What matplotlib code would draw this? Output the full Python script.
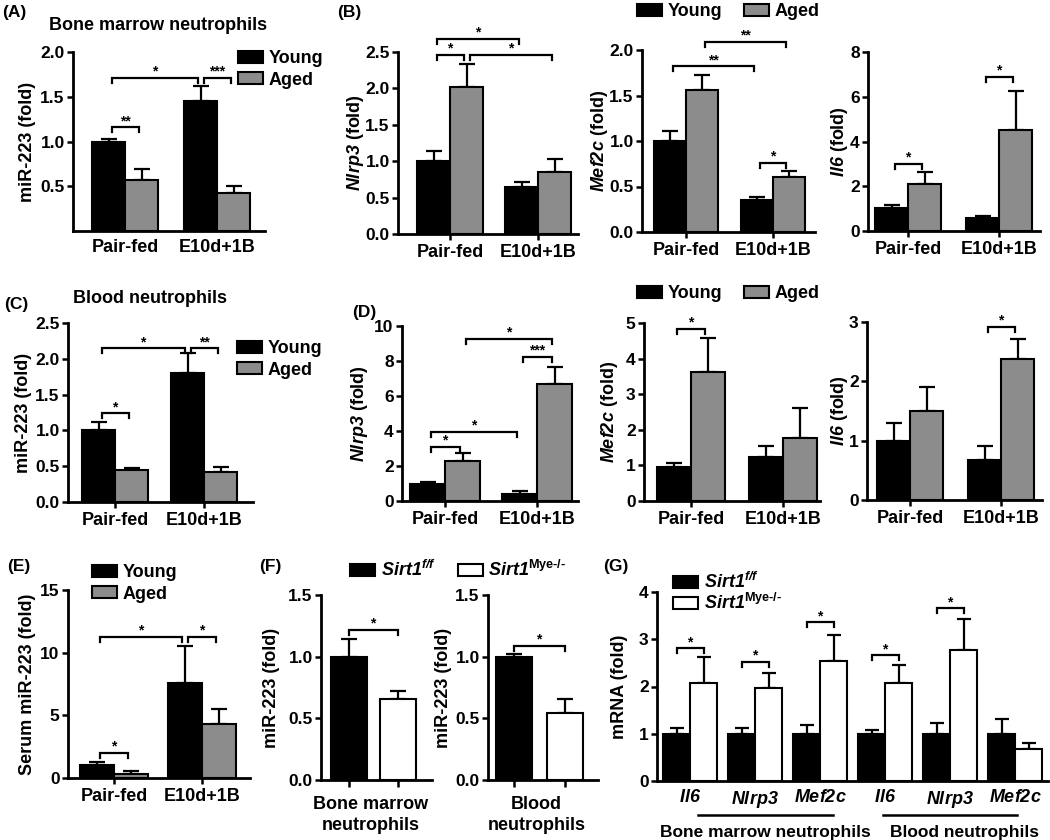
import matplotlib
matplotlib.use("Agg")
import matplotlib.pyplot as plt
import matplotlib.transforms as mtransforms
import numpy as np

plt.rcParams["font.family"] = "Liberation Sans"
plt.rcParams["font.weight"] = "bold"
plt.rcParams["mathtext.fontset"] = "custom"
plt.rcParams["mathtext.it"] = "Liberation Sans:italic:bold"
plt.rcParams["mathtext.cal"] = "Liberation Sans:italic:bold"
plt.rcParams["mathtext.rm"] = "Liberation Sans:bold"
plt.rcParams["mathtext.bf"] = "Liberation Sans:bold"

# ---- data ----
groups = ["Pair-fed", "E10d+1B"]
ages = ["Young", "Aged"]

# (A) bone marrow neutrophils, miR-223
a_young = [1.0, 1.45]
a_young_sem = [0.03, 0.17]
a_aged = [0.57, 0.43]
a_aged_sem = [0.12, 0.07]

# (B) bone marrow neutrophils, Nlrp3 / Mef2c / Il6
b_nlrp3_young = [1.0, 0.65]
b_nlrp3_young_sem = [0.14, 0.06]
b_nlrp3_aged = [2.02, 0.85]
b_nlrp3_aged_sem = [0.31, 0.18]

b_mef2c_young = [1.0, 0.35]
b_mef2c_young_sem = [0.11, 0.04]
b_mef2c_aged = [1.56, 0.60]
b_mef2c_aged_sem = [0.17, 0.07]

b_il6_young = [1.05, 0.57]
b_il6_young_sem = [0.13, 0.10]
b_il6_aged = [2.08, 4.5]
b_il6_aged_sem = [0.55, 1.75]

# (C) blood neutrophils, miR-223
c_young = [1.0, 1.80]
c_young_sem = [0.12, 0.28]
c_aged = [0.45, 0.42]
c_aged_sem = [0.02, 0.07]

# (D) blood neutrophils, Nlrp3 / Mef2c / Il6
d_nlrp3_young = [1.0, 0.42]
d_nlrp3_young_sem = [0.10, 0.14]
d_nlrp3_aged = [2.27, 6.68]
d_nlrp3_aged_sem = [0.45, 0.98]

d_mef2c_young = [0.95, 1.25]
d_mef2c_young_sem = [0.13, 0.29]
d_mef2c_aged = [3.62, 1.77]
d_mef2c_aged_sem = [0.96, 0.83]

d_il6_young = [1.0, 0.68]
d_il6_young_sem = [0.30, 0.23]
d_il6_aged = [1.5, 2.38]
d_il6_aged_sem = [0.40, 0.34]

# (E) serum miR-223
e_young = [1.0, 7.6]
e_young_sem = [0.28, 2.9]
e_aged = [0.33, 4.3]
e_aged_sem = [0.22, 1.2]

# (F) Sirt1 f/f vs Mye-/-, miR-223
genotypes = ["$\\mathcal{Sirt1}^{\\mathcal{f/f}}$", "$\\mathcal{Sirt1}^{\\mathrm{Mye\u2010/\u2010}}$"]
f_bm = [1.0, 0.66]
f_bm_sem = [0.14, 0.06]
f_blood = [1.0, 0.54]
f_blood_sem = [0.02, 0.12]

# (G) mRNA
g_genes = ["Il6", "Nlrp3", "Mef2c", "Il6", "Nlrp3", "Mef2c"]
g_ff = [1.0, 1.0, 1.0, 1.0, 1.0, 1.0]
g_ff_sem = [0.12, 0.12, 0.18, 0.08, 0.22, 0.32]
g_mye = [2.08, 1.97, 2.54, 2.07, 2.77, 0.68]
g_mye_sem = [0.54, 0.31, 0.55, 0.39, 0.65, 0.12]
g_sig = [2.81, 2.52, 3.36, 2.66, 3.66]

# bracket lists: (bar i, bar j, height, label); bars = PF young, PF aged, E young, E aged
a_brackets = [(0, 2, 1.71, "*"), (2, 3, 1.71, "***"), (0, 1, 1.16, "**")]
b_nlrp3_brackets = [(0, 1, 2.46, "*"), (0, 2, 2.68, "*"), (1, 3, 2.46, "*")]
b_mef2c_brackets = [(0, 2, 1.82, "**"), (1, 3, 2.09, "**"), (2, 3, 0.76, "*")]
b_il6_brackets = [(0, 1, 3.0, "*"), (2, 3, 6.9, "*")]
c_brackets = [(0, 1, 1.24, "*"), (0, 2, 2.15, "*"), (2, 3, 2.15, "**")]
d_nlrp3_brackets = [(0, 1, 3.1, "*"), (0, 2, 3.94, "*"), (1, 3, 9.26, "*"), (2, 3, 8.23, "***")]
d_mef2c_brackets = [(0, 1, 4.83, "*")]
d_il6_brackets = [(2, 3, 2.92, "*")]
e_brackets = [(0, 1, 2.0, "*"), (0, 2, 11.25, "*"), (2, 3, 11.25, "*")]

GRAY = "#8c8c8c"
W, H = 1050, 840
FS = 13

fig = plt.figure(figsize=(W / 100, H / 100), dpi=100)


def px_axes(left, right, top, bottom):
    return fig.add_axes([left / W, 1 - bottom / H, (right - left) / W, (bottom - top) / H])


def style_axes(ax, ymax, yticks, fmt):
    for s in ["top", "right"]:
        ax.spines[s].set_visible(False)
    for s in ["left", "bottom"]:
        ax.spines[s].set_linewidth(2)
    ax.set_ylim(0, ymax)
    ax.set_yticks(yticks, [fmt.format(t) for t in yticks])
    ax.tick_params(axis="both", labelsize=FS, width=1.8, length=4, pad=2)
    ax.tick_params(axis="y", labelsize=12.5)


def bracket(ax, x1, x2, y, label, tick):
    ax.plot([x1, x1, x2, x2], [y - tick, y, y, y - tick], color="black", lw=1.6,
            clip_on=False, solid_joinstyle="miter")
    ax.annotate(label, ((x1 + x2) / 2, y), xytext=(0, 1.5), textcoords="offset points",
                ha="center", va="baseline", fontsize=10, annotation_clip=False)


def ylab(text, x, top, bottom):
    fig.text(x / W, 1 - (top + bottom) / 2 / H, text, rotation=90, ha="center",
             va="center", fontsize=FS)


def age_panel(box, c0, c1, bw, ymax, yticks, fmt, young, young_sem, aged, aged_sem,
              brackets, ylabel, ylabel_x, xticks=True):
    left, right, top, bottom = box
    step = c1 - c0
    ax = px_axes(left, right, top, bottom)
    style_axes(ax, ymax, yticks, fmt)
    ax.set_xlim((left - c0) / step, (right - c0) / step)
    w = bw / step
    x = np.arange(len(groups))
    hy = ax.bar(x - w / 2, young, w, color="black", edgecolor="black", linewidth=1.5, zorder=2)
    ha = ax.bar(x + w / 2, aged, w, color=GRAY, edgecolor="black", linewidth=1.5, zorder=2)
    for xs, v, e in [(x - w / 2, young, young_sem), (x + w / 2, aged, aged_sem)]:
        ax.errorbar(xs, v, yerr=[np.zeros(len(x)), e], fmt="none", ecolor="black",
                    elinewidth=1.6, capsize=6, capthick=1.6, zorder=1)
    ax.set_xticks(x, groups)
    ax.tick_params(axis="x", length=4 if xticks else 0, pad=3 if xticks else 6)
    pos = [x[0] - w / 2, x[0] + w / 2, x[1] - w / 2, x[1] + w / 2]
    tick = 5 * ymax / (bottom - top)
    s = 3 / step
    for i, j, y, lab in brackets:
        bracket(ax, pos[i] + s, pos[j] - s, y, lab, tick)
    ylab(ylabel, ylabel_x, top, bottom)
    return ax, hy, ha


def legend(handles, labels, x, y, ncol=1, spacing=0.25):
    fig.legend(handles, labels, loc="upper left", bbox_to_anchor=(x / W, 1 - y / H),
               frameon=False, ncol=ncol, handlelength=1.4, handleheight=0.65,
               handletextpad=0.3, labelspacing=spacing, columnspacing=1.2,
               borderpad=0, borderaxespad=0, prop=dict(size=FS, weight="bold"))


# ---- row 1 ----
ax, hy, ha = age_panel((73, 265, 52, 231), 125, 217, 33, 2.0, [0.5, 1.0, 1.5, 2.0], "{:.1f}",
                       a_young, a_young_sem, a_aged, a_aged_sem, a_brackets,
                       "miR-223 (fold)", 27, xticks=False)
legend([hy, ha], ages, 238, 50)
fig.text(158 / W, 1 - 25 / H, "Bone marrow neutrophils", ha="center", va="center", fontsize=FS)

ax, hy, ha = age_panel((398, 578, 52, 234), 450, 538, 33, 2.5, [0, 0.5, 1.0, 1.5, 2.0, 2.5], "{:.1f}",
                       b_nlrp3_young, b_nlrp3_young_sem, b_nlrp3_aged, b_nlrp3_aged_sem,
                       b_nlrp3_brackets, "$\\mathcal{Nlrp3}$ (fold)", 355)
age_panel((642, 815, 50, 232), 686, 773, 32, 2.0, [0, 0.5, 1.0, 1.5, 2.0], "{:.1f}",
          b_mef2c_young, b_mef2c_young_sem, b_mef2c_aged, b_mef2c_aged_sem,
          b_mef2c_brackets, "$\\mathcal{Mef2c}$ (fold)", 600)
age_panel((868, 1040, 52, 231), 908, 999, 33, 8, [0, 2, 4, 6, 8], "{:g}",
          b_il6_young, b_il6_young_sem, b_il6_aged, b_il6_aged_sem,
          b_il6_brackets, "$\\mathcal{Il6}$ (fold)", 840)
legend([hy, ha], ages, 637, 3, ncol=2)

# ---- row 2 ----
ax, hy, ha = age_panel((68, 253, 323, 502), 115, 204, 33, 2.5, [0, 0.5, 1.0, 1.5, 2.0, 2.5], "{:.1f}",
                       c_young, c_young_sem, c_aged, c_aged_sem, c_brackets,
                       "miR-223 (fold)", 24)
legend([hy, ha], ages, 237, 340)
fig.text(150 / W, 1 - 298 / H, "Blood neutrophils", ha="center", va="center", fontsize=FS)

ax, hy, ha = age_panel((402, 578, 326, 501), 445, 537, 35, 10, [0, 2, 4, 6, 8, 10], "{:g}",
                       d_nlrp3_young, d_nlrp3_young_sem, d_nlrp3_aged, d_nlrp3_aged_sem,
                       d_nlrp3_brackets, "$\\mathcal{Nlrp3}$ (fold)", 360)
age_panel((644, 820, 323, 501), 691, 783, 34, 5, [0, 1, 2, 3, 4, 5], "{:g}",
          d_mef2c_young, d_mef2c_young_sem, d_mef2c_aged, d_mef2c_aged_sem,
          d_mef2c_brackets, "$\\mathcal{Mef2c}$ (fold)", 609)
age_panel((867, 1042, 322, 500), 910, 1001, 33, 3, [0, 1, 2, 3], "{:g}",
          d_il6_young, d_il6_young_sem, d_il6_aged, d_il6_aged_sem,
          d_il6_brackets, "$\\mathcal{Il6}$ (fold)", 840)
legend([hy, ha], ages, 637, 285, ncol=2)

# ---- row 3 ----
ax, hy, ha = age_panel((68, 250, 590, 778), 114, 202, 34, 15, [0, 5, 10, 15], "{:g}",
                       e_young, e_young_sem, e_aged, e_aged_sem, e_brackets,
                       "Serum miR-223 (fold)", 28)
legend([hy, ha], ages, 92, 564)


def sirt_panel(box, c0, c1, bw, values, sems, sig_y, ylabel_x, xlabel):
    left, right, top, bottom = box
    step = c1 - c0
    ax = px_axes(left, right, top, bottom)
    style_axes(ax, 1.5, [0, 0.5, 1.0, 1.5], "{:.1f}")
    ax.set_xlim((left - c0) / step, (right - c0) / step)
    x = np.arange(2)
    w = bw / step
    bars = ax.bar(x, values, w, color=["black", "white"], edgecolor="black", linewidth=1.5, zorder=2)
    ax.errorbar(x, values, yerr=[np.zeros(2), sems], fmt="none", ecolor="black",
                elinewidth=1.6, capsize=6, capthick=1.6, zorder=1)
    ax.set_xticks(x, ["", ""])
    ax.tick_params(axis="x", length=5)
    bracket(ax, x[0], x[1], sig_y, "*", 5 * 1.5 / (bottom - top))
    trans = mtransforms.blended_transform_factory(ax.transData, ax.transAxes)
    ax.text(0.45, -0.19, xlabel, transform=trans, ha="center", va="center",
            fontsize=FS, linespacing=1.3)
    ylab("miR-223 (fold)", ylabel_x, top, bottom)
    return bars


bars = sirt_panel((321, 432, 595, 780), 348.5, 397.5, 36, f_bm, f_bm_sem, 1.22, 272,
                  "Bone marrow\nneutrophils")
sirt_panel((488, 598, 595, 780), 513.5, 564.5, 36, f_blood, f_blood_sem, 1.09, 443,
           "Blood\nneutrophils")
legend([bars[0], bars[1]], genotypes, 350, 560, ncol=2)

# (G)
left, right, top, bottom = 657, 1048, 592, 781
step = 65
ax = px_axes(left, right, top, bottom)
style_axes(ax, 4, [0, 1, 2, 3, 4], "{:g}")
ax.set_xlim((left - 690) / step, (right - 690) / step)
x = np.arange(len(g_genes))
w = 27 / step
hf = ax.bar(x - w / 2, g_ff, w, color="black", edgecolor="black", linewidth=1.5, zorder=2)
hm = ax.bar(x + w / 2, g_mye, w, color="white", edgecolor="black", linewidth=1.5, zorder=2)
for xs, v, e in [(x - w / 2, g_ff, g_ff_sem), (x + w / 2, g_mye, g_mye_sem)]:
    ax.errorbar(xs, v, yerr=[np.zeros(len(x)), e], fmt="none", ecolor="black",
                elinewidth=1.6, capsize=5, capthick=1.6, zorder=1)
ax.set_xticks(x, ["$\\mathcal{%s}$" % g for g in g_genes])
ax.tick_params(axis="x", length=0, pad=6)
tick = 5 * 4 / (bottom - top)
for i, y in enumerate(g_sig):
    bracket(ax, x[i] - w / 2, x[i] + w / 2, y, "*", tick)
trans = mtransforms.blended_transform_factory(ax.transData, ax.transAxes)
for x1, x2 in [(0.12, 2.2), (2.97, 5.03)]:
    ax.plot([x1, x2], [-0.18, -0.18], transform=trans, color="black", lw=1.8, clip_on=False)
ax.text(1.16, -0.27, "Bone marrow neutrophils", transform=trans, ha="center", va="center",
        fontsize=12.5)
ax.text(4.22, -0.27, "Blood neutrophils", transform=trans, ha="center", va="center",
        fontsize=12.5)
ylab("mRNA (fold)", 620, top, bottom)
legend([hf, hm], genotypes, 673, 572, spacing=0.05)

# panel letters
for lab, px, py in [("(A)", 2, 12), ("(B)", 337, 12), ("(C)", 4, 305), ("(D)", 352, 312),
                    ("(E)", 7, 567), ("(F)", 259, 567), ("(G)", 603, 567)]:
    fig.text(px / W, 1 - py / H, lab, ha="left", va="center", fontsize=12.5)

fig.savefig("out.png", dpi=100)
